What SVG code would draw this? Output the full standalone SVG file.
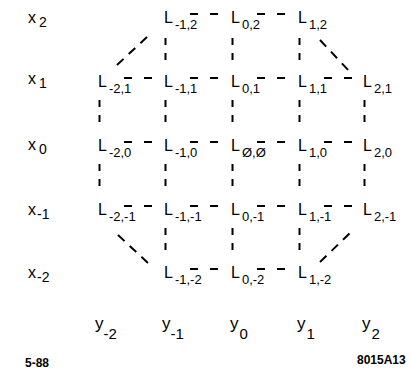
<svg xmlns="http://www.w3.org/2000/svg" width="411" height="369" viewBox="0 0 411 369">
<style>
text{font-family:"Liberation Sans",Arial,sans-serif;fill:#000}
.L{font-size:16px}
.s{font-size:13px}
.ax{font-size:16px}
.ay{font-size:17px}
.note{font-size:12px;font-weight:bold}
.h{stroke:#000;stroke-width:2;fill:none;stroke-dasharray:8 12}
.v{stroke:#000;stroke-width:2;fill:none;stroke-dasharray:7 8}
.d{stroke:#000;stroke-width:2;fill:none;stroke-dasharray:9 7}
</style>
<rect width="411" height="369" fill="#fff"/>
<g id="connectors">
<path class="h" d="M190 14H220M257 14H287M124 78H154M190 78H220M257 78H287M324 78H354M124 142H154M190 142H220M257 142H287M324 142H354M124 206H154M190 206H220M257 206H287M324 206H354M190 269H220M257 269H287"/>
<path class="v" d="M165.5 38V61M232.5 38V61M299.5 38V61M99.5 100V123M165.5 100V123M232.5 100V123M299.5 100V123M364.5 100V123M99.5 164V187M165.5 164V187M232.5 164V187M299.5 164V187M364.5 164V187M165.5 228V251M232.5 228V251M299.5 228V251"/>
<path class="d" d="M117 65L147 37M320 40L350 72M118 235L148 263M320 262L350 233"/>
</g>
<g id="axis-x">
<text class="ax" x="28" y="23">x<tspan font-size="14" dx="3" dy="4">2</tspan></text>
<text class="ax" x="28" y="84">x<tspan font-size="14" dx="3" dy="4">1</tspan></text>
<text class="ax" x="28" y="150">x<tspan font-size="14" dx="3" dy="4">0</tspan></text>
<text class="ax" x="28" y="215">x<tspan font-size="14" dx="1" dy="4">-1</tspan></text>
<text class="ax" x="28" y="278">x<tspan font-size="14" dx="1" dy="4">-2</tspan></text>
</g>
<g id="axis-y">
<text class="ay" x="95" y="329">y<tspan font-size="15" dx="0" dy="10">-2</tspan></text>
<text class="ay" x="162" y="329">y<tspan font-size="15" dx="0" dy="10">-1</tspan></text>
<text class="ay" x="230" y="329">y<tspan font-size="15" dx="1" dy="10">0</tspan></text>
<text class="ay" x="297" y="329">y<tspan font-size="15" dx="1" dy="10">1</tspan></text>
<text class="ay" x="362" y="329">y<tspan font-size="15" dx="1" dy="10">2</tspan></text>
</g>
<g id="n-m1-2"><text class="L" x="164" y="23">L<tspan class="s" dx="2" dy="6">-1,2</tspan></text></g>
<g id="n-0-2"><text class="L" x="231" y="23">L<tspan class="s" dx="2" dy="6">0,2</tspan></text></g>
<g id="n-1-2"><text class="L" x="298" y="23">L<tspan class="s" dx="2" dy="6">1,2</tspan></text></g>
<g id="n-m2-1"><text class="L" x="98" y="87">L<tspan class="s" dx="2" dy="6">-2,1</tspan></text></g>
<g id="n-m1-1"><text class="L" x="164" y="87">L<tspan class="s" dx="2" dy="6">-1,1</tspan></text></g>
<g id="n-0-1"><text class="L" x="231" y="87">L<tspan class="s" dx="2" dy="6">0,1</tspan></text></g>
<g id="n-1-1"><text class="L" x="298" y="87">L<tspan class="s" dx="2" dy="6">1,1</tspan></text></g>
<g id="n-2-1"><text class="L" x="363" y="87">L<tspan class="s" dx="2" dy="6">2,1</tspan></text></g>
<g id="n-m2-0"><text class="L" x="98" y="151">L<tspan class="s" dx="2" dy="6">-2,0</tspan></text></g>
<g id="n-m1-0"><text class="L" x="164" y="151">L<tspan class="s" dx="2" dy="6">-1,0</tspan></text></g>
<g id="n-0-0"><text class="L" x="231" y="151">L<tspan class="s" dx="2" dy="6">Ø,Ø</tspan></text></g>
<g id="n-1-0"><text class="L" x="298" y="151">L<tspan class="s" dx="2" dy="6">1,0</tspan></text></g>
<g id="n-2-0"><text class="L" x="363" y="151">L<tspan class="s" dx="2" dy="6">2,0</tspan></text></g>
<g id="n-m2-m1"><text class="L" x="98" y="215">L<tspan class="s" dx="2" dy="6">-2,-1</tspan></text></g>
<g id="n-m1-m1"><text class="L" x="164" y="215">L<tspan class="s" dx="2" dy="6">-1,-1</tspan></text></g>
<g id="n-0-m1"><text class="L" x="231" y="215">L<tspan class="s" dx="2" dy="6">0,-1</tspan></text></g>
<g id="n-1-m1"><text class="L" x="298" y="215">L<tspan class="s" dx="2" dy="6">1,-1</tspan></text></g>
<g id="n-2-m1"><text class="L" x="363" y="215">L<tspan class="s" dx="2" dy="6">2,-1</tspan></text></g>
<g id="n-m1-m2"><text class="L" x="164" y="278">L<tspan class="s" dx="2" dy="6">-1,-2</tspan></text></g>
<g id="n-0-m2"><text class="L" x="231" y="278">L<tspan class="s" dx="2" dy="6">0,-2</tspan></text></g>
<g id="n-1-m2"><text class="L" x="298" y="278">L<tspan class="s" dx="2" dy="6">1,-2</tspan></text></g>
<text class="note" x="25" y="367">5-88</text>
<text class="note" x="357" y="364">8015A13</text>
</svg>
